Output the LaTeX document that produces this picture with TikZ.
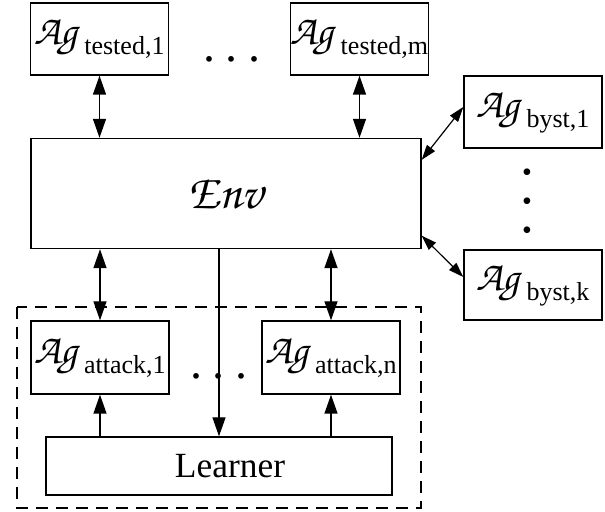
\documentclass[tikz,border=0pt]{standalone}
\usepackage[T1]{fontenc}
\usepackage{fontspec}
\setmainfont{Liberation Serif}
\usetikzlibrary{arrows.meta}

\newcommand{\scrfont}{\fontencoding{T1}\fontfamily{pzc}\fontseries{m}\fontshape{it}\selectfont}
\newcommand{\agent}[1]{{\fontsize{21}{24}\scrfont Ag}\hspace{3.5pt}\raisebox{-5pt}{\fontsize{13}{15}\selectfont #1}}
\newcommand{\threedots}{.\hspace{5.2pt}.\hspace{5.2pt}.}

\begin{document}
\begin{tikzpicture}[x=0.5pt,y=-0.5pt,line width=0.7pt]
\tikzset{box/.style = {draw,rectangle,inner sep=0pt}}
\tikzset{agentbox/.style = {box,minimum width=69pt,minimum height=36pt}}
\tikzset{dotnode/.style = {anchor=base,inner sep=0pt,text height=2.5pt,text depth=0pt,
  font=\fontsize{24}{26}\selectfont}}
\tikzset{vdot/.style = {inner sep=0pt,font=\fontsize{14}{15}\selectfont}}
\tikzset{edge/.style = {-{Triangle[length=9.5pt,width=6.5pt]}}}
\tikzset{biedge/.style = {{Triangle[length=9.5pt,width=6.5pt]}-{Triangle[length=9.5pt,width=6.5pt]}}}
\tikzset{sideedge/.style = {line width=0.6pt,{Triangle[length=7.5pt,width=5pt]}-{Triangle[length=7.5pt,width=5pt]}}}
\useasboundingbox (0,0) rectangle (605,512);

\node[agentbox] (tested1) at (99.5,39) {\agent{tested,1}};
\node[agentbox] (testedm) at (359.5,39) {\agent{tested,m}};
\node[dotnode] (tdots) at (232,62) {\threedots};

\node[box,minimum width=195pt,minimum height=55pt] (env) at (226,193.5)
  {\fontsize{24.5}{27}\scrfont Env};

\node[agentbox] (byst1) at (533,112) {\agent{byst,1}};
\node[agentbox,minimum height=35pt] (bystk) at (533,285) {\agent{byst,k}};
\node[vdot] (bdot1) at (527,175) {\textbullet};
\node[vdot] (bdot2) at (527,204) {\textbullet};
\node[vdot] (bdot3) at (527,233) {\textbullet};

\draw[dashed,dash pattern=on 6pt off 4pt] (17,307) rectangle (421,508);
\node[agentbox,minimum height=36.5pt] (attack1) at (100,357.5) {\agent{attack,1}};
\node[agentbox,minimum height=36.5pt] (attackn) at (331,357.5) {\agent{attack,n}};
\node[dotnode] (adots) at (219,379) {\threedots};
\node[box,minimum width=173pt,minimum height=29pt] (learner) at (219,466)
  {\fontsize{17.7}{20}\selectfont\hspace*{11pt}Learner};

\draw[biedge] (tested1.south) -- (tested1.south |- env.north);
\draw[biedge] (testedm.south) -- (testedm.south |- env.north);
\draw[biedge] (attack1.north |- env.south) -- (attack1.north);
\draw[biedge] (attackn.north |- env.south) -- (attackn.north);
\draw[edge] (learner.north |- env.south) -- (learner.north);
\draw[edge] (attack1.south |- learner.north) -- (attack1.south);
\draw[edge] (attackn.south |- learner.north) -- (attackn.south);
\draw[sideedge] ([yshift=-11pt]env.north east) -- ([yshift=2.5pt]byst1.west);
\draw[sideedge] ([yshift=6.75pt]env.south east) -- ([yshift=4pt]bystk.west);
\end{tikzpicture}
\end{document}
